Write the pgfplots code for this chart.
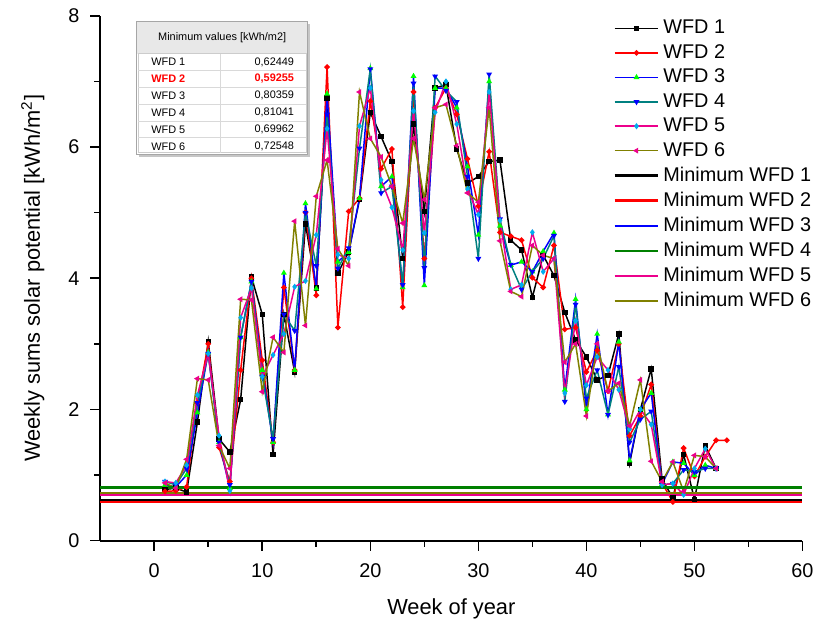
\documentclass[border=0pt]{standalone}
\usepackage{fontspec}
\setmainfont{Liberation Sans}
\usepackage{pgfplots}
\usepackage{pgfplotstable}
\pgfplotsset{compat=1.18}
\definecolor{wteal}{RGB}{0,128,128}
\definecolor{wolive}{RGB}{128,128,0}
\definecolor{wgreen}{RGB}{0,128,0}

% weekly sums per weather data file
\pgfplotstableread{
w  s1   s2   s3   s4   s5   s6
1  0.78 0.75 0.85 0.90 0.90 0.88
2  0.80 0.76 0.82 0.85 0.88 0.80
3  0.74 0.82 1.00 1.10 1.15 1.24
4  1.81 2.10 1.95 2.10 2.22 2.47
5  3.04 3.00 2.87 2.85 2.85 2.45
6  1.55 1.42 1.50 1.50 1.60 1.45
7  1.35 0.90 0.80 0.85 0.76 1.10
8  2.15 2.60 3.10 3.10 3.40 3.68
9  4.02 4.00 3.95 3.95 3.85 3.67
10 3.45 2.75 2.60 2.50 2.50 2.27
11 1.31 1.50 1.50 1.55 2.83 3.10
12 3.45 3.86 4.08 3.45 3.15 2.87
13 2.57 2.60 2.60 3.20 3.87 4.87
14 4.83 5.00 5.14 5.00 3.96 3.28
15 3.85 3.74 3.84 4.19 4.66 5.25
16 6.75 7.22 6.81 6.50 6.28 5.80
17 4.08 3.25 4.25 4.15 4.36 4.45
18 4.40 5.02 4.40 4.46 4.30 4.19
19 5.20 5.22 5.22 5.98 6.32 6.84
20 6.53 6.70 7.20 7.19 6.90 6.13
21 6.16 5.67 5.40 5.30 5.50 5.85
22 5.78 5.97 5.55 5.40 5.08 5.40
23 4.30 3.56 3.86 3.90 4.43 4.84
24 6.35 6.84 7.08 6.97 6.55 6.13
25 5.02 4.30 3.89 4.16 4.69 5.20
26 6.90 6.60 6.90 7.08 6.53 6.60
27 6.95 6.90 6.90 6.86 7.00 6.65
28 5.97 6.50 6.60 6.69 6.35 6.02
29 5.45 5.82 5.70 5.55 5.36 5.30
30 5.55 5.10 4.66 4.30 4.97 5.16
31 5.78 5.93 7.00 7.11 6.84 6.60
32 5.80 4.70 4.80 4.90 4.88 4.57
33 4.58 4.64 4.20 4.21 3.83 3.80
34 4.43 4.58 4.25 3.83 3.90 3.72
35 3.71 4.01 4.10 4.10 4.70 4.50
36 4.35 3.86 4.41 4.30 4.10 4.35
37 4.04 4.50 4.69 4.65 4.30 4.30
38 3.48 3.22 2.30 2.12 2.25 2.72
39 3.06 3.25 3.68 3.60 3.35 3.00
40 2.80 2.57 2.00 2.17 2.37 1.90
41 2.45 2.90 3.15 2.60 2.80 3.00
42 2.52 2.28 1.92 1.92 2.60 2.28
43 3.15 3.00 3.03 2.65 2.30 2.40
44 1.18 1.60 1.22 1.50 1.70 1.75
45 2.00 1.90 2.00 1.85 2.00 2.45
46 2.62 2.38 2.25 1.97 1.77 1.21
47 0.94 0.88 0.86 0.85 0.85 0.90
48 0.65 0.59 1.20 0.87 0.87 1.20
49 1.31 1.41 1.18 1.08 0.70 0.75
50 0.63 0.98 1.00 1.05 1.10 1.30
51 1.45 1.28 1.15 1.10 1.40 1.28
52 1.10 1.53 1.10 1.10 1.10 1.10
53 nan  1.53 nan  nan  nan  nan
}\weekly

\begin{document}
\begin{tikzpicture}
\begin{axis}[
  scale only axis, width=354pt, height=264.5pt,
  xmin=-5, xmax=60, ymin=0, ymax=8,
  xtick={0,10,...,60}, ytick={0,2,...,8},
  minor x tick num=1, minor y tick num=1,
  axis lines=left, axis line style={-, line width=0.9pt},
  tick align=outside, tick pos=left,
  major tick length=5pt, minor tick length=3pt,
  every tick/.style={black, line width=0.8pt},
  /pgf/number format/assume math mode=true,
  tick label style={font=\fontsize{10}{12}\selectfont},
  xticklabel style={yshift=-3pt},
  yticklabel style={xshift=-2pt},
  xlabel={Week of year},
  ylabel={Weekly sums solar potential [kWh/m\textsuperscript{2}]},
  label style={font=\fontsize{11}{13}\selectfont},
  xlabel style={at={(axis description cs:0.5,-0.13)}, anchor=center},
  ylabel style={at={(axis description cs:-0.096,0.5)}, anchor=center},
  legend style={at={(rel axis cs:0.722,1.008)}, anchor=north west, draw=none, fill=none,
    font=\fontsize{10}{11}\selectfont, row sep=-0.1pt},
  legend cell align=left,
  legend image code/.code={\draw[mark repeat=2,mark phase=2] plot coordinates {(0pt,0pt)(11pt,0pt)(22pt,0pt)};},
  every axis plot/.append style={line width=0.75pt, mark size=1pt},
]
\addplot[black, mark=square*, mark options={fill=black}] table[x=w,y=s1] {\weekly};
\addplot[red, mark=*, mark options={fill=red}] table[x=w,y=s2] {\weekly};
\addplot[blue, mark=triangle*, mark options={green, fill=green}] table[x=w,y=s3] {\weekly};
\addplot[wteal, mark=triangle*, mark options={blue, fill=blue, rotate=180}] table[x=w,y=s4] {\weekly};
\addplot[magenta, mark=diamond*, mark options={cyan, fill=cyan}] table[x=w,y=s5] {\weekly};
\addplot[wolive, mark=triangle*, mark options={magenta, fill=magenta, rotate=90}] table[x=w,y=s6] {\weekly};
\addplot[black, line width=1.1pt] coordinates {(-5,0.62449)(60,0.62449)};
\addplot[red, line width=1.1pt] coordinates {(-5,0.59255)(60,0.59255)};
\addplot[blue, line width=1.1pt] coordinates {(-5,0.80359)(60,0.80359)};
\addplot[wgreen, line width=1.1pt] coordinates {(-5,0.81041)(60,0.81041)};
\addplot[magenta, line width=1.1pt] coordinates {(-5,0.69962)(60,0.69962)};
\addplot[wolive, line width=1.1pt] coordinates {(-5,0.72548)(60,0.72548)};
\legend{WFD 1,WFD 2,WFD 3,WFD 4,WFD 5,WFD 6,Minimum WFD 1,Minimum WFD 2,Minimum WFD 3,Minimum WFD 4,Minimum WFD 5,Minimum WFD 6}
\coordinate (o) at (rel axis cs:0,0);
\coordinate (tbl) at (axis cs:-1.65,7.91);
\end{axis}
% inset table of minimum values
\begin{scope}[shift={(tbl)}, x=1pt, y=1pt, font=\fontsize{5.5}{6}\selectfont]
  \fill[gray!45] (1.2,-1.2) rectangle (87.7,-68.2);
  \fill[white] (0,0) rectangle (86.5,-67);
  \fill[gray!18] (0,0) rectangle (86.5,-16);
  \draw[gray!40, line width=0.4pt] (1,-16) rectangle (85.5,-66);
  \foreach \i in {1,...,5} \draw[gray!30, line width=0.4pt] (1,-16-8.5*\i) -- (85.5,-16-8.5*\i);
  \draw[gray!30, line width=0.4pt] (42.5,-16) -- (42.5,-66);
  \draw[gray!70, line width=0.5pt] (0,0) rectangle (86.5,-67);
  \node at (43.25,-8) {Minimum values [kWh/m2]};
  \node[anchor=west] at (4,-20.25) {WFD 1};
  \node[anchor=east] at (83,-20.25) {0,62449};
  \node[anchor=west, red] at (4,-28.75) {\textbf{WFD 2}};
  \node[anchor=east, red] at (83,-28.75) {\textbf{0,59255}};
  \node[anchor=west] at (4,-37.25) {WFD 3};
  \node[anchor=east] at (83,-37.25) {0,80359};
  \node[anchor=west] at (4,-45.75) {WFD 4};
  \node[anchor=east] at (83,-45.75) {0,81041};
  \node[anchor=west] at (4,-54.25) {WFD 5};
  \node[anchor=east] at (83,-54.25) {0,69962};
  \node[anchor=west] at (4,-62.75) {WFD 6};
  \node[anchor=east] at (83,-62.75) {0,72548};
\end{scope}
\path (o) ++(-50.5pt,-40.5pt) rectangle ++(410.5pt,313pt);
\end{tikzpicture}
\end{document}
